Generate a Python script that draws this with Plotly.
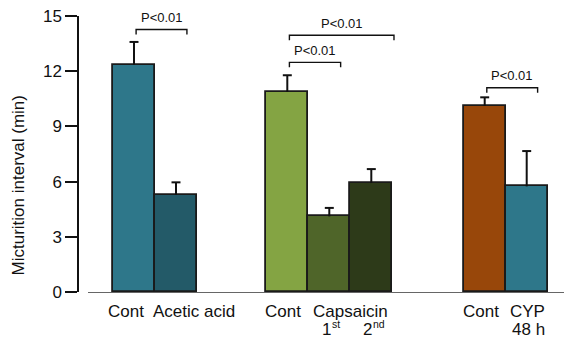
import plotly.graph_objects as go

# ---- data ----
groups = [["Cont", "Acetic acid"], ["Cont", "Capsaicin 1st", "Capsaicin 2nd"], ["Cont", "CYP 48 h"]]
means = [12.35, 5.27, 10.87, 4.11, 5.92, 10.11, 5.74]
sems = [1.24, 0.69, 0.91, 0.46, 0.76, 0.47, 1.92]
colors = ["#2E778A", "#235A68", "#84A443", "#4F6529", "#2D3A19", "#98470A", "#2E778A"]
y_ticks = [0, 3, 6, 9, 12, 15]
# significance brackets: (left bar index, right bar index, bracket height, label)
brackets = [(0, 1, 14.27, "P<0.01"), (2, 4, 13.95, "P<0.01"), (2, 3, 12.48, "P<0.01"), (5, 6, 11.10, "P<0.01")]

# ---- layout helpers ----
group_gaps = [0, 1.65, 1.7]
xs = []
pos = 0.0
for gi, g in enumerate(groups):
    if gi > 0:
        pos += group_gaps[gi]
    for _ in g:
        xs.append(pos)
        pos += 1
xs = [round(v, 3) for v in xs]

FONT = "Liberation Sans, Arial, sans-serif"
INK = "#111111"
fig = go.Figure()
fig.add_trace(go.Bar(
    x=xs, y=means, width=1.0,
    marker=dict(color=colors, line=dict(color="#1a1a1a", width=1.8)),
    showlegend=False, hoverinfo="skip",
))

# upward-only error bars (stem + top cap)
cap = 0.107
ex, ey = [], []
for xv, m, s in zip(xs, means, sems):
    ex += [xv, xv, None, xv - cap, xv + cap, None]
    ey += [m, m + s, None, m + s, m + s, None]
fig.add_trace(go.Scatter(x=ex, y=ey, mode="lines", line=dict(color=INK, width=2),
                         showlegend=False, hoverinfo="skip", cliponaxis=False))

# brackets
end_off = [0.26, 0.54, 0.27, 0.26]
for k, (i, j, h, lab) in enumerate(brackets):
    x0 = xs[i] + 0.05
    x1 = xs[j] + end_off[k]
    leg = 0.27
    fig.add_trace(go.Scatter(x=[x0, x0, x1, x1], y=[h - leg, h, h, h - leg], mode="lines",
                             line=dict(color=INK, width=1.4), showlegend=False,
                             hoverinfo="skip", cliponaxis=False))
    fig.add_annotation(x=(x0 + x1) / 2, y=h, yshift=12, text=lab, showarrow=False,
                       font=dict(family=FONT, size=13, color=INK),
                       xanchor="center", yanchor="middle")

# category labels
lab_font = dict(family=FONT, size=17, color=INK)
sup_font = dict(family=FONT, size=10.5, color=INK)
line1 = [("Cont", xs[0], -8.5), ("Acetic acid", xs[1], 18), ("Cont", xs[2], -4),
         ("Capsaicin", (xs[3] + xs[4]) / 2, 0), ("Cont", xs[5], -3.5), ("CYP", xs[6], 0.5)]
line2 = [("1", xs[3], -3), ("2", xs[4], -4), ("48 h", xs[6], 1.5)]
sups = [("st", xs[3], 1.5), ("nd", xs[4], 1.0)]
for t, xv, dx in line1:
    fig.add_annotation(x=xv, y=0, xshift=dx, yshift=-19, text=t, showarrow=False,
                       font=lab_font, xanchor="center", yanchor="middle")
for t, xv, dx in line2:
    fig.add_annotation(x=xv, y=0, xshift=dx, yshift=-37, text=t, showarrow=False,
                       font=lab_font, xanchor="center", yanchor="middle", borderpad=0)
for t, xv, dx in sups:
    fig.add_annotation(x=xv, y=0, xshift=dx, yshift=-32, text=t, showarrow=False,
                       font=sup_font, xanchor="left", yanchor="middle", borderpad=0)

# y title
fig.add_annotation(xref="paper", yref="y", x=-60 / 486, y=5.79, text="Micturition interval (min)",
                   textangle=-90, showarrow=False, font=lab_font, xanchor="center", yanchor="middle")

fig.update_layout(
    width=564, height=338,
    margin=dict(l=78, r=0, t=16, b=46),
    paper_bgcolor="white", plot_bgcolor="white",
    bargap=0,
    xaxis=dict(domain=[10 / 486, 1], range=[-46 / 42, 430 / 42], showgrid=False, zeroline=False,
               showline=True, linecolor="#666666", linewidth=1.3, ticks="", showticklabels=False),
    yaxis=dict(anchor="free", position=0, range=[0, 15], tickvals=y_ticks, showgrid=False,
               zeroline=False, showline=True, linecolor=INK, linewidth=1.5,
               ticks="outside", ticklen=12, tickwidth=1.5, tickcolor=INK,
               tickfont=dict(family=FONT, size=17, color=INK)),
)

fig.write_html("out.html")
